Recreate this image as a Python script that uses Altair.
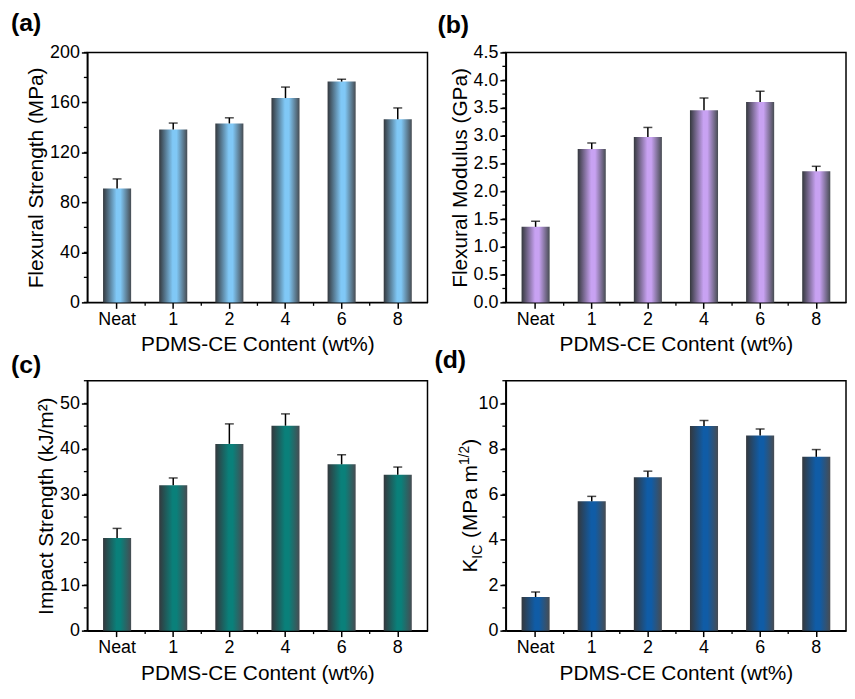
import altair as alt
import pandas as pd

categories = ["Neat", "1", "2", "4", "6", "8"]

flex_strength = [91.1, 138.4, 143.2, 163.5, 176.7, 146.6]
flex_strength_err = [7.7, 5.1, 4.5, 8.8, 1.9, 9.0]

flex_modulus = [1.36, 2.76, 2.98, 3.46, 3.61, 2.36]
flex_modulus_err = [0.10, 0.11, 0.17, 0.22, 0.19, 0.09]

impact_strength = [20.4, 32.0, 41.1, 45.1, 36.6, 34.3]
impact_strength_err = [2.1, 1.6, 4.4, 2.6, 2.1, 1.7]

kic = [1.48, 5.69, 6.75, 9.01, 8.59, 7.65]
kic_err = [0.22, 0.22, 0.27, 0.24, 0.29, 0.32]

FONT = "Liberation Sans"
W, H = 343, 252
one = pd.DataFrame({"t": [0]})


def label_mark(label, lx, ly):
    return alt.Chart(one).mark_text(
        align="left", baseline="alphabetic", fontSize=25, fontWeight="bold",
        font=FONT, color="black",
    ).encode(x=alt.value(lx), y=alt.value(ly), text=alt.value(label))


def panel(vals, errs, ymax, major, minor, color, ytitle, label, lx, ly, fmt):
    df = pd.DataFrame({"cat": categories, "v": vals,
                       "hi": [v + e for v, e in zip(vals, errs)]})
    minor_df = pd.DataFrame({"v": minor})
    xminor_df = pd.DataFrame({"cat": categories[:-1]})
    xscale = alt.Scale(domain=categories, paddingInner=0.5, paddingOuter=0.28)
    yscale = alt.Scale(domain=[0, ymax], nice=False, zero=True)
    grad = alt.Gradient(
        gradient="linear", x1=0, x2=1, y1=0, y2=0,
        stops=[alt.GradientStop(color="#34383d", offset=0),
               alt.GradientStop(color=color, offset=0.48),
               alt.GradientStop(color=color, offset=0.62),
               alt.GradientStop(color="#474c52", offset=1)])
    xaxis = alt.Axis(title="PDMS-CE Content (wt%)", labelAngle=0, titlePadding=6)
    yaxis = alt.Axis(title=ytitle, values=major, format=fmt, labelOverlap=False,
                     labelBound=False, labelExpr="format(datum.value, '%s')" % fmt)
    X = alt.X("cat:N", sort=categories, scale=xscale, axis=xaxis)
    bars = alt.Chart(df).mark_bar(fill=grad).encode(
        x=X, y=alt.Y("v:Q", scale=yscale, axis=yaxis),
    )
    err = alt.Chart(df).mark_rule(color="black", strokeWidth=1.5).encode(
        x=X, y=alt.Y("v:Q", scale=yscale, axis=yaxis), y2="hi:Q",
    )
    cap = alt.Chart(df).mark_tick(color="black", thickness=1.5, size=9).encode(
        x=X, y=alt.Y("hi:Q", scale=yscale, axis=yaxis),
    )
    yminor = alt.Chart(minor_df).mark_rule(color="black", strokeWidth=1.3).encode(
        y=alt.Y("v:Q", scale=yscale, axis=yaxis),
        x=alt.value(-3.5), x2=alt.value(0),
    )
    step = W / (len(categories) - 0.5 + 2 * 0.28)
    xminor = alt.Chart(xminor_df).mark_rule(color="black", strokeWidth=1.3,
                                            xOffset=step / 2).encode(
        x=X, y=alt.value(H), y2=alt.value(H + 3.5),
    )
    return alt.layer(bars, err, cap, yminor, xminor,
                     label_mark(label, lx, ly)).properties(width=W, height=H)


pa = panel(flex_strength, flex_strength_err, 200, [0, 40, 80, 120, 160, 200],
           list(range(0, 201, 20)), "#80c8f6", "Flexural Strength (MPa)",
           "(a)", -77, -22, "d")
pb = panel(flex_modulus, flex_modulus_err, 4.5,
           [0.0, 0.5, 1.0, 1.5, 2.0, 2.5, 3.0, 3.5, 4.0, 4.5],
           [i * 0.25 for i in range(19)], "#c8a2f2", "Flexural Modulus (GPa)",
           "(b)", -69, -20, ".1f")
pc = panel(impact_strength, impact_strength_err, 55, [0, 10, 20, 30, 40, 50],
           list(range(0, 56, 5)), "#0a807a", "Impact Strength (kJ/m²)",
           "(c)", -77, -8, "d")
pd_ = panel(kic, kic_err, 11, [0, 2, 4, 6, 8, 10], list(range(0, 12)),
            "#105ca6", " ", "(d)", -72, -13, "d")

# multi-part y title for panel (d): K_IC (MPa m^1/2)
ystart = H / 2 + 67.4


def part(txt, size, dx, dy):
    return alt.Chart(one).mark_text(
        angle=270, align="left", baseline="alphabetic", fontSize=size, font=FONT,
        color="black", dx=dx, dy=dy,
    ).encode(x=alt.value(-29), y=alt.value(ystart), text=alt.value(txt))


pd_ = alt.layer(
    pd_,
    part("K", 21, 0, 0),
    part("IC", 14, 14, 5),
    part("(MPa m", 21, 34.8, 0),
    part("1/2", 14, 108.3, -8),
    part(")", 21, 127.8, 0),
)

chart = alt.concat(
    pa, pb, pc, pd_, columns=2, spacing={"row": 79, "column": 79}, bounds="flush"
).configure_view(
    stroke="black", strokeWidth=1.5
).configure_axis(
    labelFontSize=18, titleFontSize=21, labelFont=FONT, titleFont=FONT,
    titleFontWeight="normal", labelColor="black", titleColor="black",
    tickSize=6, tickWidth=1.5, tickColor="black", domainColor="black",
    domainWidth=1.5, labelPadding=2, titlePadding=3, grid=False,
    labelOverlap=False,
).properties(
    padding={"left": 2, "top": -1, "right": 0, "bottom": 0},
    background="white",
)

chart.save("out.html", embed_options={"renderer": "svg", "actions": False})
